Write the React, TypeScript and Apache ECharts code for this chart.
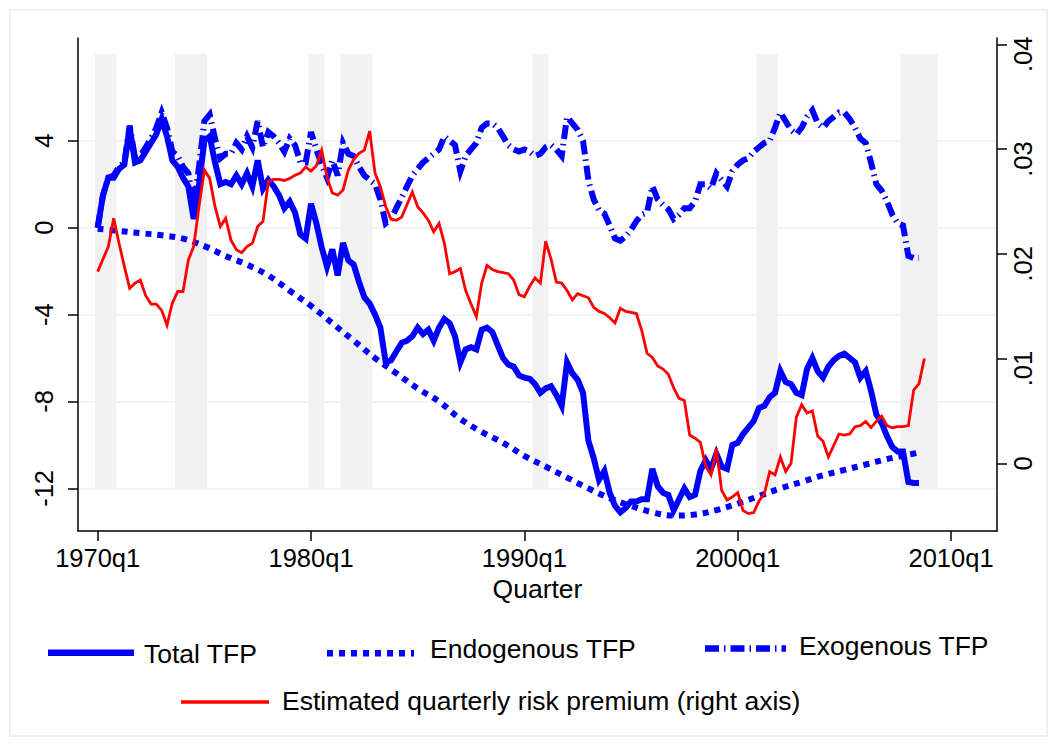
import React, { useEffect, useRef } from 'react';
import * as echarts from 'echarts';

// ---- Axis ticks / labels (x = quarter index, 0 = 1970q1) ----
const X_TICKS = [0, 40, 80, 120, 160];
const X_LABELS = ['1970q1', '1980q1', '1990q1', '2000q1', '2010q1'];
const LEFT_TICKS = [-12, -8, -4, 0, 4];
const LEFT_LABELS = ['-12', '-8', '-4', '0', '4'];
const RIGHT_TICKS = [0, 0.01, 0.02, 0.03, 0.04];
const RIGHT_LABELS = ['0', '.01', '.02', '.03', '.04'];

// ---- NBER recessions (first and last quarter index) ----
const RECESSION_FIRST = [0, 15, 40, 46, 82, 124, 151];
const RECESSION_LAST = [3, 20, 42, 51, 84, 127, 157];
const RECESSION_TOP = 8;
const RECESSION_BOTTOM = -12;

// ---- Series (quarterly from 1970q1) ----
const TOTAL_TFP = [
  0.0, 1.5, 2.3, 2.3, 2.7, 2.9, 4.6, 3.0, 3.1, 3.5,
  3.9, 4.3, 5.0, 4.2, 3.1, 2.8, 2.3, 1.9, 0.4, 2.0,
  4.0, 4.2, 3.0, 2.0, 2.1, 2.0, 2.4, 2.0, 2.5, 1.9,
  3.1, 1.8, 2.2, 1.9, 1.5, 0.9, 1.2, 0.7, -0.3, -0.5,
  1.1, 0.2, -0.9, -1.8, -1.0, -2.2, -0.7, -1.5, -1.7, -2.5,
  -3.2, -3.5, -4.0, -4.6, -6.2, -6.1, -5.7, -5.3, -5.2, -5.0,
  -4.6, -4.9, -4.7, -5.2, -4.6, -4.2, -4.4, -5.0, -6.2, -5.6,
  -5.5, -5.6, -4.7, -4.6, -4.8, -5.4, -6.0, -6.3, -6.4, -6.8,
  -6.9, -6.95, -7.2, -7.6, -7.4, -7.3, -7.7, -8.2, -6.2, -6.7,
  -7.0, -7.6, -9.8, -10.6, -11.6, -11.2, -12.2, -12.8, -13.1, -12.9,
  -12.6, -12.6, -12.5, -12.5, -11.1, -11.9, -12.2, -12.3, -13.0, -12.5,
  -12.0, -12.4, -12.3, -11.2, -10.7, -11.1, -10.4, -11.0, -11.1, -10.0,
  -9.9, -9.5, -9.2, -8.9, -8.3, -8.2, -7.8, -7.6, -6.6, -7.1,
  -7.2, -7.6, -7.7, -6.5, -6.0, -6.6, -6.9, -6.4, -6.1, -5.9,
  -5.8, -6.0, -6.2, -6.9, -6.6, -7.5, -8.6, -9.0, -9.6, -10.1,
  -10.3, -10.3, -11.7, -11.75, -11.75,
];

const EXOGENOUS_TFP = [
  0.0, 1.5, 2.3, 2.4, 2.8, 3.0, 4.7, 3.2, 3.3, 3.7,
  4.1, 4.6, 5.3, 4.6, 3.5, 3.3, 2.8, 2.5, 1.0, 2.8,
  4.9, 5.2, 4.1, 3.2, 3.4, 3.4, 3.9, 3.6, 4.2, 3.7,
  4.9, 3.7, 4.4, 4.2, 3.9, 3.5, 4.1, 3.8, 3.0, 3.0,
  4.4, 3.6, 2.9, 2.3, 3.1, 2.4, 3.9, 3.4, 3.3, 2.8,
  2.4, 2.2, 2.0, 1.3, 0.2, 0.4, 0.9, 1.4, 1.9, 2.4,
  2.7, 3.0, 3.2, 3.4, 3.6, 4.2, 4.0, 3.8, 2.6, 3.3,
  3.6, 3.9, 4.6, 4.8, 4.8, 4.6, 4.2, 3.8, 3.6, 3.5,
  3.6, 3.5, 3.3, 3.4, 3.7, 3.8, 3.6, 3.3, 5.1, 4.8,
  4.5, 4.0, 2.2, 1.3, 0.8, 0.65, 0.1, -0.5, -0.6, -0.4,
  -0.1, 0.3, 0.6, 0.7, 1.9, 1.3, 1.05, 0.85, 0.4, 0.6,
  0.9, 0.9, 1.2, 2.0, 2.0, 1.8, 2.5, 2.2, 1.9, 2.6,
  2.9, 3.1, 3.2, 3.5, 3.7, 3.9, 4.0, 4.6, 5.3, 4.9,
  4.5, 4.3, 4.6, 5.1, 5.4, 4.8, 4.6, 4.9, 5.1, 5.3,
  5.3, 5.0, 4.6, 4.1, 3.9, 3.0, 2.0, 1.7, 1.2, 0.6,
  0.2, 0.1, -1.3, -1.4, -1.4,
];

const ENDO_QUARTERS = [
  0, 4, 8, 12, 16, 20, 24, 28, 32, 36, 40, 44, 48, 52, 56, 60, 64, 68, 72, 76,
  80, 84, 88, 92, 96, 100, 104, 108, 112, 116, 120, 124, 128, 132, 136, 140, 144, 148, 152, 154,
];
const ENDOGENOUS_TFP = [
  -0.05, -0.15, -0.25, -0.35, -0.5, -0.85, -1.3, -1.7, -2.2, -2.9,
  -3.6, -4.4, -5.2, -6.0, -6.7, -7.4, -8.0, -8.8, -9.4, -9.9,
  -10.5, -11.0, -11.5, -12.0, -12.45, -12.8, -13.1, -13.25, -13.2, -13.0,
  -12.7, -12.35, -12.0, -11.7, -11.4, -11.15, -10.9, -10.65, -10.45, -10.35,
];

const RISK_PREMIUM = [
  0.0183, 0.0195, 0.0207, 0.0234, 0.0210, 0.0188, 0.0167, 0.0172, 0.0175, 0.0160,
  0.0152, 0.0152, 0.0146, 0.0132, 0.0153, 0.0164, 0.0164, 0.0194, 0.0207, 0.0245,
  0.0280, 0.0272, 0.0245, 0.0226, 0.0234, 0.0213, 0.0204, 0.0201, 0.0207, 0.0210,
  0.0226, 0.0231, 0.0269, 0.0271, 0.0271, 0.0270, 0.0272, 0.0275, 0.0277, 0.0283,
  0.0279, 0.0284, 0.0299, 0.0273, 0.0258, 0.0256, 0.0261, 0.0280, 0.0290, 0.0296,
  0.0299, 0.0317, 0.0277, 0.0264, 0.0245, 0.0233, 0.0232, 0.0235, 0.0247, 0.0259,
  0.0245, 0.0239, 0.0232, 0.0221, 0.0229, 0.0210, 0.0181, 0.0183, 0.0186, 0.0165,
  0.0152, 0.0140, 0.0172, 0.0189, 0.0185, 0.0183, 0.0182, 0.0181, 0.0175, 0.0161,
  0.0159, 0.0169, 0.0177, 0.0172, 0.0212, 0.0195, 0.0173, 0.0172, 0.0165, 0.0156,
  0.0162, 0.0160, 0.0158, 0.0149, 0.0145, 0.0143, 0.0139, 0.0134, 0.0148, 0.0145,
  0.0144, 0.0143, 0.0127, 0.0105, 0.0101, 0.0093, 0.0090, 0.0085, 0.0072, 0.0062,
  0.0060, 0.0027, 0.0024, 0.0020, -0.0003, -0.0011, 0.0014, -0.0026, -0.0035, -0.0032,
  -0.0028, -0.0045, -0.0048, -0.0047, -0.0036, -0.0029, -0.0008, -0.0011, 0.0006, -0.0008,
  0.0000, 0.0044, 0.0056, 0.0048, 0.0050, 0.0026, 0.0021, 0.0006, 0.0017, 0.0028,
  0.0027, 0.0028, 0.0035, 0.0036, 0.0040, 0.0034, 0.0040, 0.0045, 0.0036, 0.0034,
  0.0035, 0.0035, 0.0036, 0.0070, 0.0076, 0.0100,
];

const SERIES_NAMES = [
  'Total TFP',
  'Endogenous TFP',
  'Exogenous TFP',
  'Estimated quarterly risk premium (right axis)',
];

const FONT = '"Liberation Sans", Arial, Helvetica, sans-serif';
const BLUE = '#0000ff';
const RED = '#ff0000';
const ENDO_DASH = [6, 6];
const EXO_DASH = [14, 5, 1.5, 5];

const pickLabel = (ticks: number[], labels: string[]) => (v: number) => {
  const i = ticks.findIndex((t) => Math.abs(t - v) < 1e-9);
  return i >= 0 ? labels[i] : '';
};

export default function App() {
  const ref = useRef<HTMLDivElement>(null);

  useEffect(() => {
    document.body.style.margin = '0';
    if (!ref.current) return;
    const chart = echarts.init(ref.current, null, { renderer: 'svg' });

    const quarterPairs = (vals: number[]) => vals.map((v, i) => [i, v]);
    const endoPairs = ENDOGENOUS_TFP.map((v, i) => [ENDO_QUARTERS[i], v]);
    const recessionAreas = RECESSION_FIRST.map((f, i) => [
      { xAxis: f - 0.5, yAxis: RECESSION_BOTTOM },
      { xAxis: RECESSION_LAST[i] + 0.5, yAxis: RECESSION_TOP },
    ]);

    const axisText = { color: '#000', fontFamily: FONT, fontSize: 25.5 };
    const axisLineStyle = { color: '#000', width: 1.5 };
    const rightLabel = pickLabel(RIGHT_TICKS, RIGHT_LABELS);

    const legendText = (text: string, x: number, y: number) => ({
      type: 'text',
      x,
      y,
      silent: true,
      style: {
        text,
        fill: '#000',
        fontFamily: FONT,
        fontSize: 26.5,
        align: 'left',
        verticalAlign: 'middle',
      },
    });
    const legendLine = (x1: number, x2: number, y: number, stroke: string, w: number, dash?: number[]) => ({
      type: 'line',
      silent: true,
      shape: { x1, y1: y, x2, y2: y },
      style: { stroke, lineWidth: w, lineDash: dash || null, lineCap: 'butt' },
    });

    chart.setOption({
      animation: false,
      backgroundColor: '#ffffff',
      grid: { left: 78, right: 60, top: 38, bottom: 215 },
      xAxis: {
        type: 'value',
        min: -3.69,
        max: 168.62,
        name: 'Quarter',
        nameLocation: 'middle',
        nameGap: 44,
        nameTextStyle: { color: '#000', fontFamily: FONT, fontSize: 26.5 },
        axisLine: { show: true, onZero: false, lineStyle: axisLineStyle },
        axisTick: { show: true, customValues: X_TICKS, length: 10, lineStyle: axisLineStyle },
        axisLabel: {
          show: true,
          customValues: X_TICKS,
          margin: 14,
          ...axisText,
          formatter: pickLabel(X_TICKS, X_LABELS),
        },
        splitLine: { show: false },
      },
      yAxis: [
        {
          type: 'value',
          position: 'left',
          min: -13.96,
          max: 8.73,
          axisLine: { show: true, onZero: false, lineStyle: axisLineStyle },
          axisTick: { show: true, customValues: LEFT_TICKS, length: 10, lineStyle: axisLineStyle },
          axisLabel: {
            show: true,
            customValues: LEFT_TICKS,
            rotate: 90,
            margin: 21,
            ...axisText,
            formatter: pickLabel(LEFT_TICKS, LEFT_LABELS),
          },
          splitLine: { show: false },
        },
        {
          type: 'value',
          position: 'right',
          min: -0.00646,
          max: 0.0406,
          axisLine: { show: true, onZero: false, lineStyle: axisLineStyle },
          axisTick: { show: true, customValues: RIGHT_TICKS, length: 10, lineStyle: axisLineStyle },
          axisLabel: {
            show: true,
            customValues: RIGHT_TICKS,
            rotate: 90,
            margin: 13,
            ...axisText,
            formatter: (v: number) => {
              const s = rightLabel(v);
              return s.startsWith('.') ? `{d|${s}}` : s;
            },
            rich: {
              d: {
                color: '#000',
                fontFamily: FONT,
                fontSize: 25.5,
                padding: [0, 20, 0, 0],
              },
            },
          },
          splitLine: { show: false },
        },
      ],
      series: [
        {
          name: SERIES_NAMES[0],
          type: 'line',
          yAxisIndex: 0,
          data: quarterPairs(TOTAL_TFP),
          showSymbol: false,
          symbol: 'none',
          z: 3,
          lineStyle: { color: BLUE, width: 6, cap: 'butt', join: 'miter' },
          markLine: {
            silent: true,
            symbol: 'none',
            z: 0,
            label: { show: false },
            lineStyle: { color: '#eaf2f3', width: 1.5, type: 'solid' },
            emphasis: { disabled: true },
            data: LEFT_TICKS.map((v) => ({ yAxis: v })),
          },
          markArea: {
            silent: true,
            z: 1,
            itemStyle: { color: '#f1f1f1' },
            emphasis: { disabled: true },
            data: recessionAreas,
          },
        },
        {
          name: SERIES_NAMES[1],
          type: 'line',
          yAxisIndex: 0,
          data: endoPairs,
          smooth: 0.4,
          showSymbol: false,
          symbol: 'none',
          z: 4,
          lineStyle: { color: BLUE, width: 6, type: ENDO_DASH, cap: 'butt' },
        },
        {
          name: SERIES_NAMES[2],
          type: 'line',
          yAxisIndex: 0,
          data: quarterPairs(EXOGENOUS_TFP),
          showSymbol: false,
          symbol: 'none',
          z: 5,
          lineStyle: { color: BLUE, width: 6, type: EXO_DASH, cap: 'butt', join: 'miter' },
        },
        {
          name: SERIES_NAMES[3],
          type: 'line',
          yAxisIndex: 1,
          data: quarterPairs(RISK_PREMIUM),
          showSymbol: false,
          symbol: 'none',
          z: 6,
          lineStyle: { color: RED, width: 2.8, join: 'miter' },
        },
      ],
      graphic: [
        {
          type: 'rect',
          silent: true,
          shape: { x: 10, y: 10, width: 1037, height: 726 },
          style: { fill: 'none', stroke: '#e4ecef', lineWidth: 1.5 },
          z: -10,
        },
        legendLine(48, 134, 652.7, BLUE, 6.5),
        legendText(SERIES_NAMES[0], 144, 654),
        legendLine(327, 414, 653.3, BLUE, 6.5, ENDO_DASH),
        legendText(SERIES_NAMES[1], 430, 649),
        legendLine(705, 786, 648.5, BLUE, 6.5, EXO_DASH),
        legendText(SERIES_NAMES[2], 799, 646),
        legendLine(181, 269, 702, RED, 3.5),
        legendText(SERIES_NAMES[3], 282, 700.5),
      ],
    });

    return () => chart.dispose();
  }, []);

  return <div ref={ref} style={{ width: 1057, height: 746 }} />;
}
